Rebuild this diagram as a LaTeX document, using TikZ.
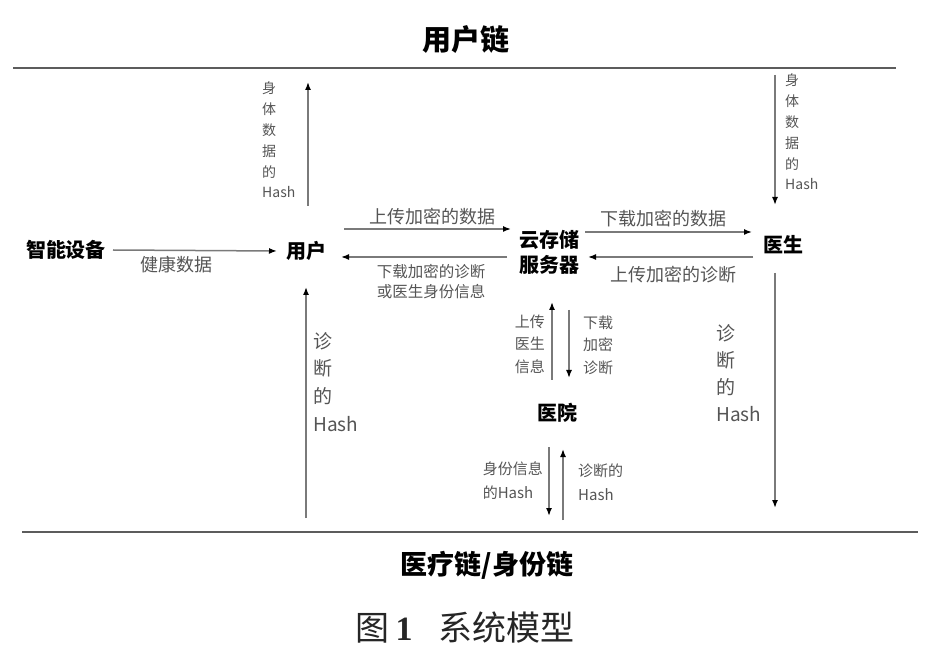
\documentclass[tikz,border=0pt]{standalone}
\usepackage{fontspec}
\setmainfont{Noto Sans CJK SC}
\newfontfamily\capserif{Liberation Serif}
\usetikzlibrary{arrows.meta}
\definecolor{linegray}{HTML}{5C5C5C}
\definecolor{arrgray}{HTML}{7A7A7A}
\definecolor{labgray}{HTML}{555555}
\tikzset{
  x=1pt, y=-1pt,
  entity/.style={inner sep=0pt, font=\fontsize{20}{25}\selectfont\bfseries, text=black, align=center},
  lab/.style={inner sep=0pt, text=labgray, font=\fontsize{18}{21}\selectfont},
  smalllab/.style={inner sep=0pt, text=labgray, font=\fontsize{15.5}{20}\selectfont, align=center},
  vlab/.style={inner sep=0pt, text=labgray, align=left, font=\fontsize{14}{20.8}\selectfont},
  biglab/.style={inner sep=0pt, text=labgray, align=left, font=\fontsize{19}{27.8}\selectfont},
  midlab/.style={inner sep=0pt, text=labgray, font=\fontsize{15}{22.5}\selectfont},
  chain/.style={draw=linegray, line width=2.4pt},
  arr/.style={draw=arrgray, line width=1.5pt, -{Latex[length=8pt,width=6pt,color=black]}},
  chaintitle/.style={inner sep=0pt, font=\fontsize{27}{30}\selectfont\bfseries, text=black}
}
\begin{document}
\begin{tikzpicture}
\useasboundingbox (0,0) rectangle (935,660);
\fill[white] (0,0) rectangle (935,660);

% chain titles and lines
\node[chaintitle, font=\fontsize{29}{32}\selectfont\bfseries] (t1) at (466,40) {用户链};
\draw[chain] (13,68) coordinate (tl1) -- (896,68) coordinate (tl2);
\draw[chain] (22,532) coordinate (bl1) -- (918,532) coordinate (bl2);
\node[chaintitle] (t2) at (487,565) {医疗链/身份链};

% caption
\node[inner sep=0pt, font=\fontsize{34}{40}\selectfont, text=black!85] (cap) at (465,628)
  {图\hspace{6pt}{\capserif\bfseries 1}\hspace{26pt}系统模型};

% entities
\node[entity] (dev) at (66,250) {智能设备};
\node[entity] (user) at (306,251) {用户};
\node[entity] (cloud) at (549,252) {云存储\\服务器};
\node[entity] (doc) at (783,245) {医生};
\node[entity] (hosp) at (557,413) {医院};

% free ends on the chain lines
\coordinate (uTop) at (308,82);
\coordinate (dTop) at (775,75);
\coordinate (dBot) at (775,508);
\coordinate (uBot) at (306,518);
\coordinate (hBotA) at (549,516);
\coordinate (hBotB) at (563,520);

% connectors
\draw[arr] ([shift={(47,0)}]dev.center) -- ([shift={(-29,0)}]user.center);
\draw[arr] ([shift={(2,-45)}]user.center) -- (uTop);
\draw[arr] ([shift={(38,-22)}]user.center) -- ([shift={(-38,-23)}]cloud.center);
\draw[arr] ([shift={(-42,5)}]cloud.center) -- ([shift={(35,6)}]user.center);
\draw[arr] ([shift={(36,-20)}]cloud.center) -- ([shift={(-31,-13)}]doc.center);
\draw[arr] ([shift={(-30,12)}]doc.center) -- ([shift={(39,5)}]cloud.center);
\draw[arr] (dTop) -- ([shift={(-8,-40)}]doc.center);
\draw[arr] ([shift={(-8,28)}]doc.center) -- (dBot);
\draw[arr] (uBot) -- ([shift={(0,36)}]user.center);
\draw[arr] ([shift={(-5,-33)}]hosp.center) -- ([shift={(3,50)}]cloud.center);
\draw[arr] ([shift={(20,58)}]cloud.center) -- ([shift={(12,-35)}]hosp.center);
\draw[arr] ([shift={(-8,34)}]hosp.center) -- (hBotA);
\draw[arr] (hBotB) -- ([shift={(6,36)}]hosp.center);

% labels
\node[lab] (l1) at (176,265) {健康数据};
\node[lab] (l2) at (432,217) {上传加密的数据};
\node[smalllab] (l3) at (431,282) {下载加密的诊断\\或医生身份信息};
\node[lab] (l4) at (663,219) {下载加密的数据};
\node[lab] (l5) at (673,275) {上传加密的诊断};
\node[vlab, anchor=west] (l6) at (262,140) {身\\体\\数\\据\\的\\Hash};
\node[vlab, anchor=west] (l7) at (785,132) {身\\体\\数\\据\\的\\Hash};
\node[biglab, anchor=west] (l8) at (313,382) {诊\\断\\的\\Hash};
\node[biglab, anchor=west, font=\fontsize{19}{27}\selectfont] (l9) at (716,373) {诊\\断\\的\\Hash};
\node[midlab, anchor=east, align=right] (l10) at (545,344) {上传\\医生\\信息};
\node[midlab, anchor=west, align=left] (l11) at (583,345) {下载\\加密\\诊断};
\node[midlab, anchor=east, align=left, font=\fontsize{15}{24}\selectfont] (l12) at (543,481) {身份信息\\的Hash};
\node[midlab, anchor=west, align=left, font=\fontsize{15}{24}\selectfont] (l13) at (578,482) {诊断的\\Hash};
\end{tikzpicture}
\end{document}
